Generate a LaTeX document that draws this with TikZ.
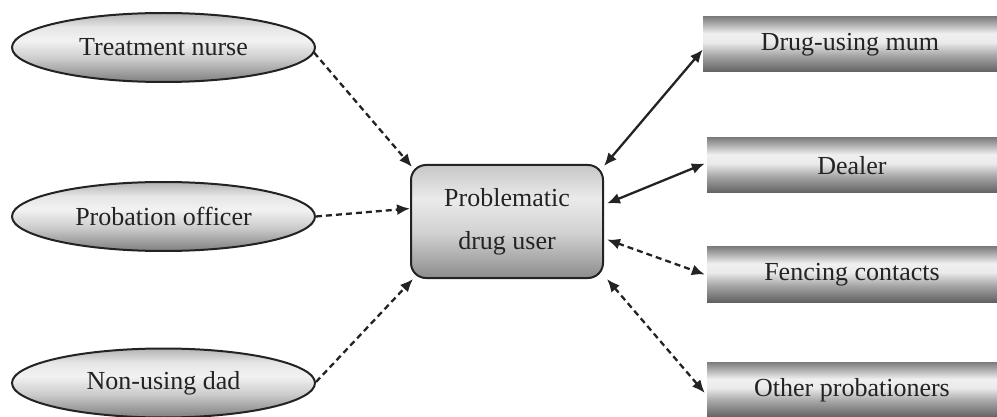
\documentclass[tikz,border=0pt]{standalone}
\usepackage{fontspec}
\setmainfont{Liberation Serif}
\usetikzlibrary{shapes.geometric,arrows.meta}
\pgfdeclareverticalshading{barshade}{100bp}{color(0bp)=(black!62); color(25bp)=(black!62); color(40bp)=(black!35); color(52bp)=(black!8); color(60bp)=(black!6); color(68bp)=(black!30); color(75bp)=(black!50); color(100bp)=(black!50)}
\pgfdeclareverticalshading{ellshade}{100bp}{color(0bp)=(black!50); color(25bp)=(black!50); color(42bp)=(black!20); color(55bp)=(black!5); color(65bp)=(black!10); color(75bp)=(black!30); color(100bp)=(black!30)}
\pgfdeclareverticalshading{boxshade}{100bp}{color(0bp)=(black!45); color(25bp)=(black!45); color(45bp)=(black!18); color(60bp)=(black!8); color(75bp)=(black!22); color(100bp)=(black!22)}
\definecolor{ink}{RGB}{35,35,35}
\tikzset{
  lbl/.style={font=\fontsize{26}{43}\selectfont, text=ink},
  oval/.style={ellipse, lbl, draw=ink, line width=2pt, shading=ellshade,
    minimum width=303pt, minimum height=69pt, inner sep=0pt},
  hub/.style={rectangle, rounded corners=15pt, lbl, draw=ink, line width=2pt,
    shading=boxshade, minimum width=192pt, minimum height=113pt, align=center, inner sep=0pt},
  bar/.style={rectangle, lbl, shading=barshade, minimum height=55pt, inner sep=0pt},
  link/.style={draw=ink, line width=2.3pt},
  dlink/.style={link, dash pattern=on 6pt off 4pt},
  tip/.style={-{Latex[length=13pt,width=11pt]}},
  tips/.style={{Latex[length=13pt,width=11pt]}-{Latex[length=13pt,width=11pt]}}
}
\begin{document}
\begin{tikzpicture}[x=1pt,y=-1pt]
\useasboundingbox (0,0) rectangle (997,417);
\node[oval] (tn) at (163.5,47.5) {Treatment nurse};
\node[oval] (po) at (163.5,216.5) {Probation officer};
\node[oval] (nd) at (163.5,383) {Non-using dad};
\node[hub] (pu) at (507,221.5) {Problematic\\drug user};
\node[bar, minimum width=294pt] (mum) at (850,44.5) {Drug-using mum};
\node[bar, minimum width=290pt] (dl) at (852,165.5) {Dealer};
\node[bar, minimum width=290pt] (fc) at (852,274.5) {Fencing contacts};
\node[bar, minimum width=290pt] (op) at (852,390) {Other probationers};
\draw[dlink, tip] ([xshift=-2pt,yshift=-5pt]tn.east) -- ([xshift=2pt,yshift=-3pt]pu.north west);
\draw[dlink, tip] (po.east) -- ([yshift=13pt]pu.west);
\draw[dlink, tip] ([yshift=1pt]nd.east) -- ([xshift=3pt]pu.south west);
\draw[link, tips] ([yshift=-2pt]pu.north east) -- ([yshift=-5pt]mum.west);
\draw[link, tips] ([xshift=3pt,yshift=18pt]pu.east) -- ([xshift=-2pt,yshift=2pt]dl.west);
\draw[dlink, tips] ([xshift=3pt,yshift=-18pt]pu.east) -- ([xshift=-2pt]fc.west);
\draw[dlink, tips] ([xshift=3pt]pu.south east) -- ([xshift=-2pt,yshift=-3pt]op.west);
\end{tikzpicture}
\end{document}
